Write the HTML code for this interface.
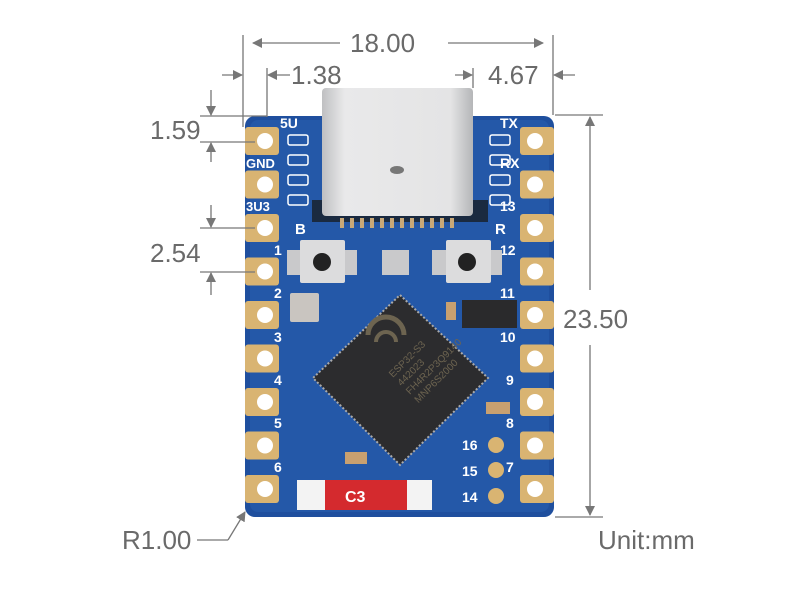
<!DOCTYPE html>
<html><head><meta charset="utf-8"><style>
html,body{margin:0;padding:0;background:#fff;}
svg{display:block}
text{font-family:"Liberation Sans",sans-serif;}
</style></head><body>
<svg width="800" height="600" viewBox="0 0 800 600" xmlns="http://www.w3.org/2000/svg">
<defs>
<marker id="ar" markerWidth="10" markerHeight="10" refX="9" refY="5" orient="auto" markerUnits="userSpaceOnUse"><path d="M0,0 L10,5 L0,10 Z" fill="#777"/></marker>
<linearGradient id="usb" x1="0" x2="1"><stop offset="0" stop-color="#bfc0c2"/><stop offset="0.15" stop-color="#e9e9ea"/><stop offset="0.85" stop-color="#e4e4e5"/><stop offset="1" stop-color="#b5b6b8"/></linearGradient>
</defs>
<rect x="245" y="116" width="309" height="401" rx="10" fill="#1f4f9e"/>
<rect x="250" y="120" width="299" height="392" rx="8" fill="#2458a8"/>
<g fill="#d9b472">
<g id="lp">
<rect x="245" y="127" width="34" height="28" rx="3"/>
<rect x="245" y="170.5" width="34" height="28" rx="3"/>
<rect x="245" y="214" width="34" height="28" rx="3"/>
<rect x="245" y="257.5" width="34" height="28" rx="3"/>
<rect x="245" y="301" width="34" height="28" rx="3"/>
<rect x="245" y="344.5" width="34" height="28" rx="3"/>
<rect x="245" y="388" width="34" height="28" rx="3"/>
<rect x="245" y="431.5" width="34" height="28" rx="3"/>
<rect x="245" y="475" width="34" height="28" rx="3"/>
</g>
<use href="#lp" transform="translate(275,0)"/>
</g>
<g fill="#fff">
<g id="lh">
<circle cx="265" cy="141" r="8"/><circle cx="265" cy="184.5" r="8"/><circle cx="265" cy="228" r="8"/><circle cx="265" cy="271.5" r="8"/><circle cx="265" cy="315" r="8"/><circle cx="265" cy="358.5" r="8"/><circle cx="265" cy="402" r="8"/><circle cx="265" cy="445.5" r="8"/><circle cx="265" cy="489" r="8"/>
</g>
<use href="#lh" transform="translate(270,0)"/>
</g>
<g fill="#fff" font-weight="bold" font-size="14">
<text x="280" y="128">5U</text>
<text x="246" y="168" font-size="13">GND</text>
<text x="246" y="211" font-size="13">3U3</text>
<text x="295" y="234" font-size="15">B</text>
<text x="274" y="255">1</text><text x="274" y="298">2</text><text x="274" y="342">3</text><text x="274" y="385">4</text><text x="274" y="428">5</text><text x="274" y="472">6</text>
<text x="500" y="128">TX</text><text x="500" y="168">RX</text><text x="500" y="211">13</text>
<text x="495" y="234" font-size="15">R</text>
<text x="500" y="255">12</text><text x="500" y="298">11</text><text x="500" y="342">10</text><text x="506" y="385">9</text><text x="506" y="428">8</text><text x="506" y="472">7</text>
<text x="462" y="450">16</text><text x="462" y="476">15</text><text x="462" y="502">14</text>
</g>
<g fill="#d9b472"><circle cx="496" cy="445" r="8"/><circle cx="496" cy="470" r="8"/><circle cx="496" cy="496" r="8"/></g>
<g fill="none" stroke="#fff" stroke-width="1.5">
<rect x="288" y="135" width="20" height="10" rx="2"/><rect x="288" y="155" width="20" height="10" rx="2"/><rect x="288" y="175" width="20" height="10" rx="2"/><rect x="288" y="195" width="20" height="10" rx="2"/>
<rect x="490" y="135" width="20" height="10" rx="2"/><rect x="490" y="155" width="20" height="10" rx="2"/><rect x="490" y="175" width="20" height="10" rx="2"/><rect x="490" y="195" width="20" height="10" rx="2"/>
</g>
<rect x="312" y="200" width="176" height="22" fill="#1a2a40"/>
<rect x="322" y="88" width="151" height="128" rx="4" fill="url(#usb)"/>
<g fill="#c8a878"><rect x="340" y="218" width="4" height="10"/><rect x="350" y="218" width="4" height="10"/><rect x="360" y="218" width="4" height="10"/><rect x="370" y="218" width="4" height="10"/><rect x="380" y="218" width="4" height="10"/><rect x="390" y="218" width="4" height="10"/><rect x="400" y="218" width="4" height="10"/><rect x="410" y="218" width="4" height="10"/><rect x="420" y="218" width="4" height="10"/><rect x="430" y="218" width="4" height="10"/><rect x="440" y="218" width="4" height="10"/><rect x="450" y="218" width="4" height="10"/></g>
<ellipse cx="397" cy="170" rx="7" ry="4" fill="#777"/>
<rect x="287" y="250" width="70" height="25" fill="#c9c9cb"/><rect x="300" y="240" width="45" height="43" rx="2" fill="#dcdcdd"/><circle cx="322" cy="262" r="9" fill="#222"/>
<rect x="432" y="250" width="70" height="25" fill="#c9c9cb"/><rect x="446" y="240" width="45" height="43" rx="2" fill="#dcdcdd"/><circle cx="467" cy="262" r="9" fill="#222"/>
<rect x="382" y="250" width="27" height="25" fill="#c9c9cb"/>
<rect x="290" y="293" width="29" height="29" rx="2" fill="#c9c5c0"/>
<rect x="462" y="300" width="55" height="28" fill="#2a2a2c"/>
<rect x="446" y="302" width="10" height="18" fill="#c8a070"/>
<rect x="486" y="402" width="24" height="12" fill="#c8a070"/>
<rect x="345" y="452" width="22" height="12" fill="#c8a070"/>
<polygon points="400,295 488,378 400,465 313,378" fill="#2c2c2e" stroke="#aaa" stroke-width="2" stroke-dasharray="2 2"/>
<g transform="translate(400,378) rotate(-45)" fill="#6d6450" font-size="10">
<text x="-5" y="-5">ESP32-S3</text><text x="-5" y="7">442023</text><text x="-5" y="19">FH4R2P3Q9140</text><text x="-5" y="31">MNP6S2000</text>
</g>
<path d="M368,335 a18,18 0 0 1 36,0" fill="none" stroke="#6d6450" stroke-width="5"/>
<path d="M376,342 a10,10 0 0 1 20,0" fill="none" stroke="#6d6450" stroke-width="4"/>
<rect x="297" y="480" width="135" height="30" fill="#f3f3f3"/>
<rect x="325" y="480" width="82" height="30" fill="#d42a2e"/>
<text x="345" y="502" fill="#fff" font-weight="bold" font-size="16">C3</text>
<g stroke="#777" stroke-width="1.3" fill="none">
<line x1="243" y1="35" x2="243" y2="127"/>
<line x1="553" y1="35" x2="553" y2="115"/>
<line x1="267" y1="68" x2="267" y2="117"/>
<line x1="473" y1="68" x2="473" y2="88"/>
<line x1="340" y1="43" x2="253" y2="43" marker-end="url(#ar)"/>
<line x1="448" y1="43" x2="543" y2="43" marker-end="url(#ar)"/>
<line x1="222" y1="75" x2="242" y2="75" marker-end="url(#ar)"/>
<line x1="290" y1="75" x2="268" y2="75" marker-end="url(#ar)"/>
<line x1="455" y1="75" x2="472" y2="75" marker-end="url(#ar)"/>
<line x1="575" y1="75" x2="554" y2="75" marker-end="url(#ar)"/>
<line x1="200" y1="116" x2="267" y2="116"/>
<line x1="200" y1="142" x2="255" y2="142"/>
<line x1="211" y1="90" x2="211" y2="115" marker-end="url(#ar)"/>
<line x1="211" y1="162" x2="211" y2="143" marker-end="url(#ar)"/>
<line x1="200" y1="228" x2="255" y2="228"/>
<line x1="200" y1="272" x2="255" y2="272"/>
<line x1="211" y1="205" x2="211" y2="227" marker-end="url(#ar)"/>
<line x1="211" y1="295" x2="211" y2="273" marker-end="url(#ar)"/>
<line x1="555" y1="115" x2="603" y2="115"/>
<line x1="555" y1="517" x2="603" y2="517"/>
<line x1="590" y1="290" x2="590" y2="117" marker-end="url(#ar)"/>
<line x1="590" y1="345" x2="590" y2="515" marker-end="url(#ar)"/>
<line x1="197" y1="540" x2="228" y2="540"/>
<line x1="228" y1="540" x2="245" y2="512" marker-end="url(#ar)"/>
</g>
<g fill="#6a6a6a" font-size="26">
<text x="350" y="52">18.00</text>
<text x="291" y="84">1.38</text>
<text x="488" y="84">4.67</text>
<text x="150" y="139">1.59</text>
<text x="150" y="262">2.54</text>
<text x="563" y="328">23.50</text>
<text x="122" y="549">R1.00</text>
<text x="598" y="549">Unit:mm</text>
</g>
</svg>
</body></html>
